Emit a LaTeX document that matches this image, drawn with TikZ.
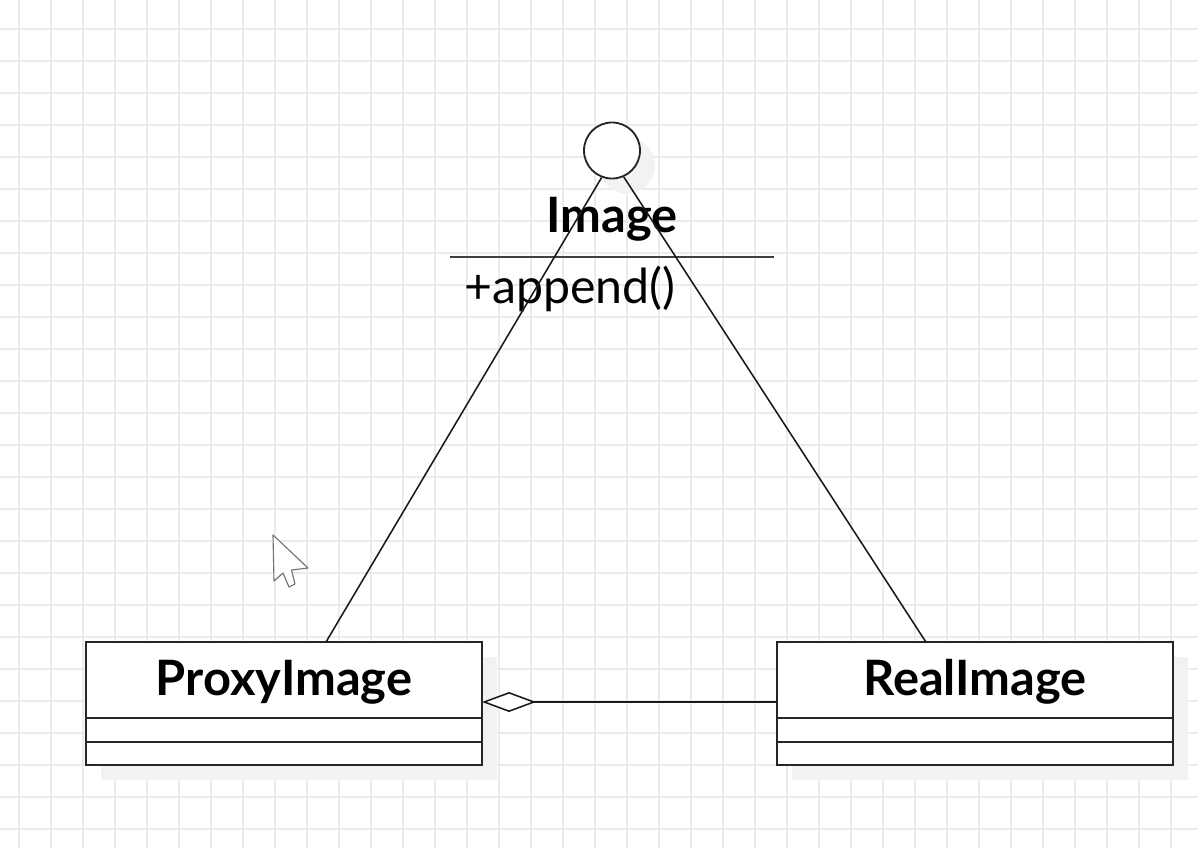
\documentclass[tikz,border=0pt]{standalone}
\usepackage{fontspec}
\setmainfont{Lato}
\usetikzlibrary{arrows.meta,calc,positioning,shadows}

\begin{document}
\begin{tikzpicture}[x=0.025cm, y=-0.025cm,
  every node/.append style={text height=1.6ex, text depth=0.4ex},
  rejilla/.style={draw=black!8, line width=1.2pt},
  sombra/.style={drop shadow={shadow xshift=0.375cm, shadow yshift=-0.375cm, fill=black!5, opacity=1}},
  clase/.style={draw=black!85, fill=white, line width=1.3pt, minimum width=9.9cm, inner sep=0pt, outer sep=0pt, sombra},
  nombre/.style={font=\fontsize{34.7}{40}\selectfont\bfseries, text height=0.95cm, text depth=0.2cm},
  interfaz/.style={circle, draw=black!85, fill=white, line width=1.3pt, minimum size=1.4cm, inner sep=0pt, sombra},
  realiza/.style={draw=black!90, line width=1.1pt},
  agrega/.style={draw=black!90, line width=1.1pt, -{Diamond[fill=white, length=1.35cm, width=0.5cm]}}]
  \useasboundingbox (0,0) rectangle (1198,848);
  \fill[white] (0,0) rectangle (1198,848);
  % rejilla
  \foreach \gx in {19,51,...,1198} \draw[rejilla] (\gx,0) -- (\gx,848);
  \foreach \gy in {29,61,...,848} \draw[rejilla] (0,\gy) -- (1198,\gy);
  % interfaz Image
  \node[interfaz] (iface) at (612,150.5) {};
  \node[nombre, minimum width=8.075cm, minimum height=1.95cm, inner sep=0pt] (image) at (612,217.5) {Image};
  \draw[draw=black!75, line width=1.3pt] (image.south west) -- (image.south east);
  \node[font=\fontsize{34.3}{40}\selectfont, anchor=base west, inner sep=0pt] (append) at (464,303) {+append()};
  % ProxyImage
  \node[clase, nombre, minimum height=1.9cm] (proxy) at (284,680) {ProxyImage};
  \node[clase, minimum height=0.6cm, below=0pt of proxy] (proxyattr) {};
  \node[clase, minimum height=0.575cm, below=0pt of proxyattr] (proxyops) {};
  % RealImage
  \node[clase, nombre, minimum height=1.9cm] (real) at (975,680) {RealImage};
  \node[clase, minimum height=0.6cm, below=0pt of real] (realattr) {};
  \node[clase, minimum height=0.575cm, below=0pt of realattr] (realops) {};
  % conectores
  \draw[realiza] (iface.249) -- ($(proxy.north west)!0.606!(proxy.north east)$);
  \draw[realiza] (iface.294) -- ($(real.north west)!0.376!(real.north east)$);
  \draw[agrega] ($(real.west)+(0,22)$) -- ($(proxy.east)+(0,22)$);
  % cursor
  \draw[draw=black!55, fill=white, line width=0.8pt, line join=round]
    (273,535) -- (274,581) -- (283,573) -- (289,587) -- (295,584) -- (291.5,570) -- (308,568) -- cycle;
\end{tikzpicture}
\end{document}
